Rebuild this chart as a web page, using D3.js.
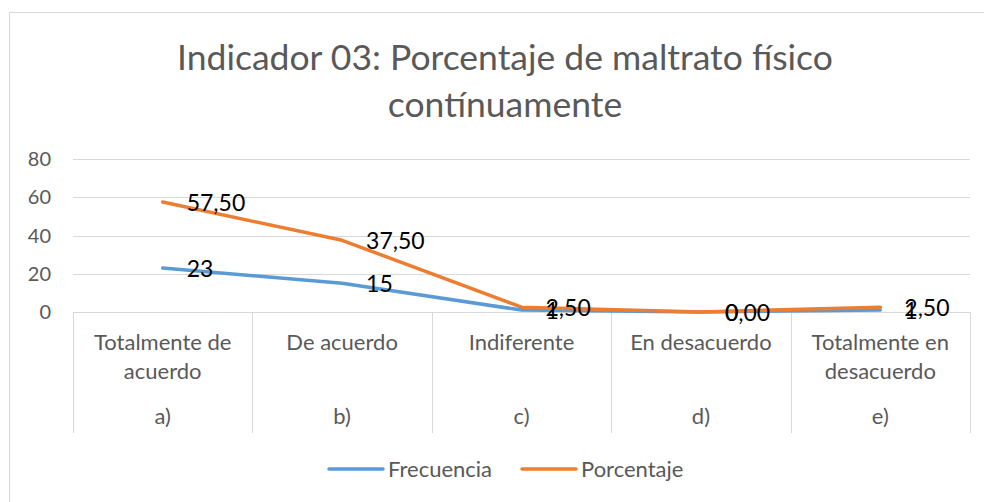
<!DOCTYPE html>
<meta charset="utf-8" />
<style>
  body { margin: 0; background: #fff; }
  text { font-family: Lato, "Open Sans", sans-serif; }
  .grid line { stroke: #d9d9d9; stroke-width: 1; }
  .line { fill: none; stroke-width: 3.5px; stroke-linejoin: round; stroke-linecap: round; }
</style>
<svg width="984" height="502"></svg>
<script src="https://d3js.org/d3.v7.min.js"></script>
<script>
  var titleLines = ['Indicador 03: Porcentaje de maltrato físico', 'contínuamente'];
  var letters = ['a)', 'b)', 'c)', 'd)', 'e)'];
  var categories = [
    ['Totalmente de', 'acuerdo'],
    ['De acuerdo'],
    ['Indiferente'],
    ['En desacuerdo'],
    ['Totalmente en', 'desacuerdo'],
  ];
  var frecuencia = [23, 15, 1, 0, 1];
  var porcentaje = [57.5, 37.5, 2.5, 0, 2.5];
  var yTicks = [0, 20, 40, 60, 80];

  var series = [
    { name: 'Frecuencia', values: frecuencia, color: '#5b9bd5', fmt: function (v) { return String(v); } },
    { name: 'Porcentaje', values: porcentaje, color: '#ed7d31', fmt: function (v) { return v.toFixed(2).replace('.', ','); } },
  ];

  var svg = d3.select('svg'),
    margin = { top: 159, right: 14, bottom: 190, left: 73 },
    width = svg.attr('width') - margin.left - margin.right,
    height = svg.attr('height') - margin.top - margin.bottom;

  // chart frame
  svg.append('rect')
    .attr('x', 9.5).attr('y', 12.5)
    .attr('width', 990).attr('height', 520)
    .attr('fill', '#fff').attr('stroke', '#d9d9d9');

  svg.append('g').selectAll('text')
    .data(titleLines)
    .enter().append('text')
    .attr('x', 505)
    .attr('y', function (d, i) { return 70 + i * 47; })
    .attr('text-anchor', 'middle')
    .attr('fill', '#595959')
    .style('font-size', '35.5px')
    .text(function (d) { return d; });

  var g = svg.append('g')
    .attr('transform', 'translate(' + margin.left + ',' + margin.top + ')');

  var x = d3.scaleBand().domain(d3.range(categories.length)).range([0, width]);
  var y = d3.scaleLinear().domain([0, 80]).range([height, 0]);

  // gridlines
  g.append('g').attr('class', 'grid')
    .selectAll('line')
    .data(yTicks)
    .enter().append('line')
    .attr('x1', 0).attr('x2', width)
    .attr('y1', function (d) { return Math.round(y(d)) + 0.5; })
    .attr('y2', function (d) { return Math.round(y(d)) + 0.5; });

  // y labels
  g.append('g').selectAll('text')
    .data(yTicks)
    .enter().append('text')
    .attr('x', -22)
    .attr('y', function (d) { return y(d) + 7; })
    .attr('text-anchor', 'end')
    .attr('fill', '#595959')
    .style('font-size', '20px')
    .text(function (d) { return d; });

  // category separators
  var seps = d3.range(categories.length + 1);
  g.append('g').attr('class', 'grid')
    .selectAll('line')
    .data(seps)
    .enter().append('line')
    .attr('x1', function (i) { return Math.round(i * x.step()) + 0.5; })
    .attr('x2', function (i) { return Math.round(i * x.step()) + 0.5; })
    .attr('y1', height)
    .attr('y2', height + 121);

  var cat = g.append('g').selectAll('g')
    .data(categories)
    .enter().append('g')
    .attr('transform', function (d, i) {
      return 'translate(' + (x(i) + x.bandwidth() / 2) + ',' + height + ')';
    });

  cat.selectAll('text.cl')
    .data(function (d) { return d; })
    .enter().append('text')
    .attr('class', 'cl')
    .attr('y', function (d, i) { return 38 + i * 29; })
    .attr('text-anchor', 'middle')
    .attr('fill', '#595959')
    .style('font-size', '22px')
    .text(function (d) { return d; });

  cat.append('text')
    .attr('y', 112)
    .attr('text-anchor', 'middle')
    .attr('fill', '#595959')
    .style('font-size', '22px')
    .text(function (d, i) { return letters[i]; });

  var line = d3.line()
    .x(function (d, i) { return x(i) + x.bandwidth() / 2; })
    .y(function (d) { return y(d); });

  g.selectAll('.line')
    .data(series)
    .enter().append('path')
    .attr('class', 'line')
    .attr('stroke', function (d) { return d.color; })
    .attr('d', function (d) { return line(d.values); });

  // data labels (they overlap at c, d, e just like the original)
  series.forEach(function (s) {
    g.append('g').selectAll('text')
      .data(s.values)
      .enter().append('text')
      .attr('x', function (d, i) { return x(i) + x.bandwidth() / 2 + 24; })
      .attr('y', function (d) { return y(d) + 8.5; })
      .attr('fill', '#000')
      .style('font-size', '23px')
      .text(function (d) { return s.fmt(d); });
  });

  // legend
  var legX = [329, 522];
  var leg = svg.append('g').selectAll('g')
    .data(series)
    .enter().append('g')
    .attr('transform', function (d, i) { return 'translate(' + legX[i] + ',469)'; });
  leg.append('line')
    .attr('x1', 0).attr('x2', 54)
    .attr('stroke', function (d) { return d.color; })
    .attr('stroke-width', 3.5)
    .attr('stroke-linecap', 'round');
  leg.append('text')
    .attr('x', 59).attr('y', 7.5)
    .attr('fill', '#595959')
    .style('font-size', '22px')
    .text(function (d) { return d.name; });
</script>
